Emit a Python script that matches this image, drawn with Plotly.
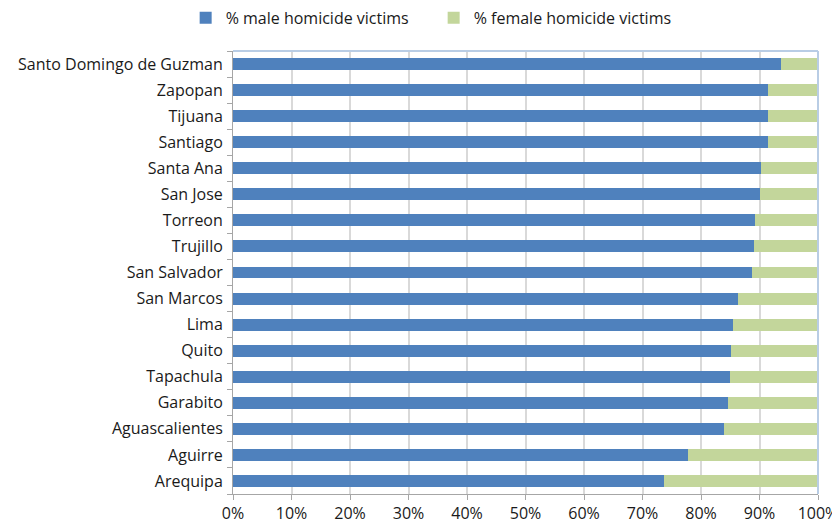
import plotly.graph_objects as go

# cities listed top to bottom as in the chart
cities = [
    "Santo Domingo de Guzman", "Zapopan", "Tijuana", "Santiago", "Santa Ana",
    "San Jose", "Torreon", "Trujillo", "San Salvador", "San Marcos", "Lima",
    "Quito", "Tapachula", "Garabito", "Aguascalientes", "Aguirre", "Arequipa",
]
male_pct = [93.7, 91.4, 91.4, 91.4, 90.3, 90.1, 89.2, 89.1, 88.8, 86.3, 85.5,
            85.2, 84.9, 84.6, 83.9, 77.8, 73.6]
female_pct = [round(100 - m, 1) for m in male_pct]

x_ticks = [0, 10, 20, 30, 40, 50, 60, 70, 80, 90, 100]
x_labels = [f"{t}%" for t in x_ticks]

BLUE = '#4f81bd'
GREEN = '#c3d69b'
FONT = "Open Sans"

fig = go.Figure()

fig.add_trace(go.Bar(
    y=cities, x=male_pct, orientation='h',
    name='% male homicide victims',
    marker=dict(color=BLUE, line=dict(width=0)),
))
fig.add_trace(go.Bar(
    y=cities, x=female_pct, orientation='h',
    name='% female homicide victims',
    marker=dict(color=GREEN, line=dict(width=0)),
))

# page body adds an 8px margin, so the figure is sized to fit 840x525
fig.update_layout(
    barmode='stack',
    bargap=0.54,
    width=832, height=517,
    paper_bgcolor='white',
    plot_bgcolor='white',
    font=dict(family=FONT, size=16, color='#1a1a1a'),
    margin=dict(l=225, r=22, t=43, b=31, autoexpand=False),
    legend=dict(
        orientation='h', xref='paper', x=0.343, xanchor='center',
        yref='paper', y=1.075, yanchor='middle',
        font=dict(size=16, color='#1a1a1a'),
        traceorder='normal', itemwidth=30,
        entrywidth=203, entrywidthmode='pixels',
    ),
    shapes=[
        dict(type='line', xref='paper', yref='paper', x0=0, x1=1, y0=1, y1=1,
             line=dict(color='#b9cde5', width=2)),
        dict(type='line', xref='paper', yref='paper', x0=1, x1=1, y0=0, y1=1,
             line=dict(color='#b9cde5', width=2)),
    ],
)

fig.update_xaxes(
    range=[0, 100], tickvals=x_ticks, ticktext=x_labels,
    showgrid=True, gridcolor='#d9d9d9', gridwidth=2,
    showline=True, linecolor='#a6a6a6', linewidth=1,
    ticks='outside', ticklen=5, tickcolor='#a6a6a6',
    zeroline=False, fixedrange=True, automargin=False,
)
fig.update_yaxes(
    categoryorder='array', categoryarray=cities[::-1],
    showgrid=False,
    showline=True, linecolor='#a6a6a6', linewidth=1,
    ticks='outside', ticklen=5, tickcolor='#a6a6a6',
    tickson='boundaries', ticklabelstandoff=6,
    fixedrange=True, automargin=False,
)

fig.write_html("out.html")
